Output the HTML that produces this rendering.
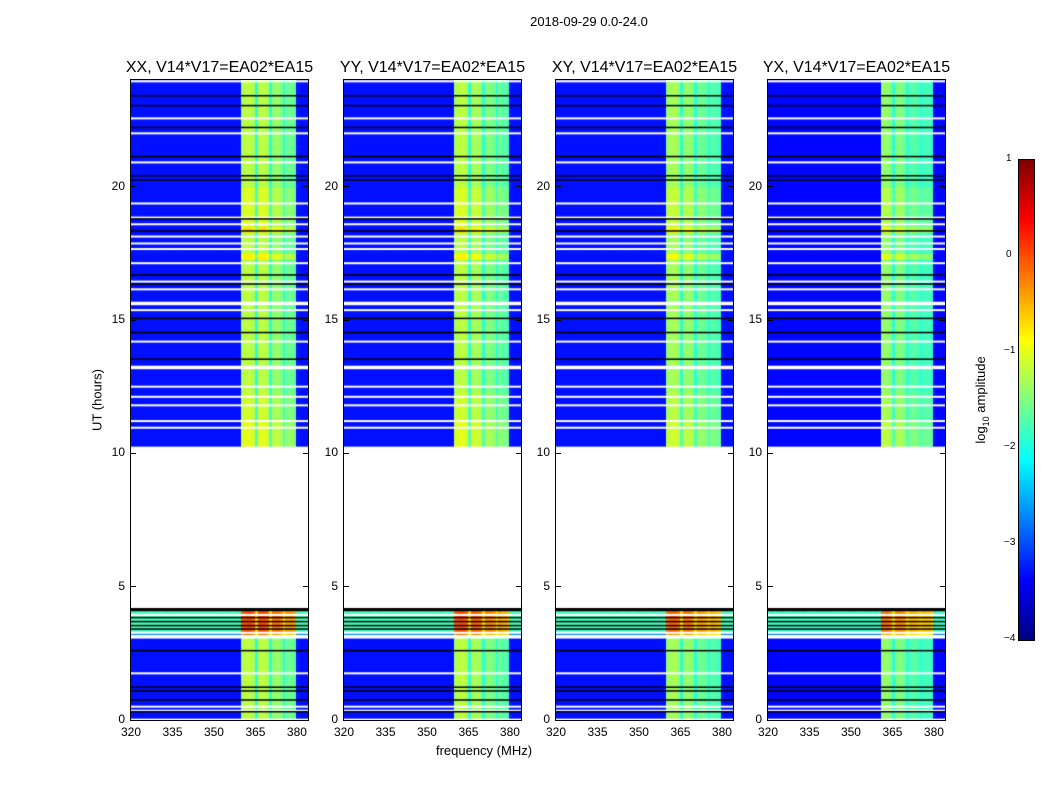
<!DOCTYPE html>
<html><head><meta charset="utf-8"><style>
body{margin:0;background:#fff;}
#wrap{position:relative;width:1050px;height:800px;background:#fff;font-family:"Liberation Sans",sans-serif;color:#000;overflow:hidden;}
.t{position:absolute;white-space:nowrap;}
canvas{position:absolute;}
</style></head><body>
<div id="wrap">
<div class="t" style="left:489px;top:14px;width:200px;text-align:center;font-size:13px">2018-09-29 0.0-24.0</div>
<div class="t" style="left:97px;top:400px;transform:translate(-50%,-50%) rotate(-90deg);font-size:13px">UT (hours)</div>
<div class="t" style="left:384px;top:743px;width:200px;text-align:center;font-size:13px">frequency (MHz)</div>
<div class="t" style="left:982px;top:400px;transform:translate(-50%,-50%) rotate(-90deg);font-size:13px">log<sub style="font-size:9px">10</sub> amplitude</div>
<canvas id="cb" width="15" height="480" style="left:1019px;top:160px;"></canvas>
<div style="position:absolute;left:1018px;top:159px;width:15px;height:480px;border:1px solid #000"></div>
</div>
<script>
// ---- data ----
const freqBins = []; for (let f = 320; f < 384; f++) freqBins.push(f); // MHz
const panelTitles = ["XX, V14*V17=EA02*EA15","YY, V14*V17=EA02*EA15","XY, V14*V17=EA02*EA15","YX, V14*V17=EA02*EA15"];
const bgLevel = [-3.3, -3.3, -3.3, -3.35];
// band levels for 360..379 MHz (20 bins) per panel
const bandXX = [-1.3,-1.2,-1.2,-1.2,-1.3,-1.9,-1.2,-1.2,-1.2,-1.3,-1.9,-1.4,-1.4,-1.4,-1.5,-1.9,-1.6,-1.6,-1.6,-1.7];
const bandYY = [-1.3,-1.2,-1.2,-1.2,-1.3,-1.9,-1.3,-1.3,-1.3,-1.4,-1.9,-1.5,-1.5,-1.5,-1.6,-1.9,-1.6,-1.7,-1.7,-1.8];
const bandXY = [-1.4,-1.3,-1.3,-1.3,-1.4,-1.9,-1.4,-1.4,-1.4,-1.5,-1.9,-1.6,-1.6,-1.6,-1.7,-1.9,-1.7,-1.7,-1.8,-1.8];
const bandYX = [-3.3,-1.4,-1.4,-1.4,-1.5,-1.9,-1.5,-1.5,-1.5,-1.6,-1.9,-1.7,-1.7,-1.7,-1.8,-1.9,-1.8,-1.8,-1.8,-1.9];
const bands = [bandXX, bandYY, bandXY, bandYX];
const bandStart = 360;
// time segments: start hour, end hour, offset (all bins), extra offset (band bins)
const segStart = [0.05, 3.15, 3.3, 4.1, 10.25, 11.2, 12.3, 17.3, 17.5, 18.3, 18.5, 20.0];
const segEnd   = [3.15, 3.3, 4.1, 4.2, 11.2, 12.3, 17.3, 17.5, 18.3, 18.5, 20.0, 24.0];
const segOff   = [0, 0.6, 1.5, -9, 0, 0, 0, 0, 0, 0, 0, 0];
const segBand  = [0, 0.4, -0.3, 0, 0.2, 0.1, 0, 0.4, 0, 0.5, 0.15, 0];
const gapStart = 4.2, gapEnd = 10.25;
const whiteLines = [23.95,22.56,22.0,20.91,19.37,18.84,18.59,18.13,17.87,17.66,17.13,16.44,16.15,15.62,15.37,14.19,13.22,12.5,12.12,11.8,11.21,10.96,3.94,3.27,3.12,1.75,0.5,0.35];
const blackLines = [23.41,23.04,22.22,21.13,20.41,20.25,18.79,18.34,16.69,16.35,15.06,14.53,13.53,3.84,3.69,3.54,3.41,2.6,1.23,1.09,0.75,0.31];
const thickWhite = [15.62,13.22,3.12];
const yTicks = [0,5,10,15,20];
const xTicks = [320,335,350,365,380];
const cbTicks = [1,0,-1,-2,-3,-4];
const vMin = -4, vMax = 1;

// ---- helpers ----
function jet(v){
  let t=(v-vMin)/(vMax-vMin); t=Math.max(0,Math.min(1,t));
  const c=x=>Math.round(255*Math.max(0,Math.min(1,x)));
  return `rgb(${c(1.5-Math.abs(4*t-3))},${c(1.5-Math.abs(4*t-2))},${c(1.5-Math.abs(4*t-1))})`;
}
const PW=177, PH=640, TOP=80, lefts=[131,344,556,768];
const xScale=f=>(f-320)/64*PW;
const yScale=h=>PH-(h/24)*PH;
const wrap=document.getElementById('wrap');

panelTitles.forEach((title,p)=>{
  const L=lefts[p];
  const cv=document.createElement('canvas');
  cv.width=PW; cv.height=PH;
  cv.style.left=L+'px'; cv.style.top=TOP+'px';
  
  
  wrap.appendChild(cv);
  const ctx=cv.getContext('2d');
  ctx.fillStyle='#fff'; ctx.fillRect(0,0,PW,PH);
  segStart.forEach((s,i)=>{
    const e=segEnd[i];
    const y0=yScale(e), y1=yScale(s);
    freqBins.forEach(f=>{
      const bi=f-bandStart;
      const inBand=bi>=0 && bi<bands[p].length && bands[p][bi]>-3;
      let v=inBand?bands[p][bi]:bgLevel[p];
      v+=segOff[i]+(inBand?segBand[i]:0);
      ctx.fillStyle=segOff[i]<-5?'#000':jet(v);
      const x0=xScale(f), x1=xScale(f+1);
      ctx.fillRect(Math.floor(x0),y0,Math.ceil(x1-x0)+1,y1-y0+0.5);
    });
  });
  ctx.fillStyle='#fff';
  ctx.fillRect(0,yScale(gapEnd),PW,yScale(gapStart)-yScale(gapEnd));
  ctx.fillRect(0,yScale(0.05),PW,PH-yScale(0.05));
  whiteLines.forEach(h=>{ctx.fillStyle='#fff';const w=thickWhite.includes(h)?3.5:2;ctx.fillRect(0,yScale(h)-w/2,PW,w);});
  blackLines.forEach(h=>{ctx.fillStyle='#000';ctx.fillRect(0,yScale(h)-0.75,PW,1.5);});

  const fr=document.createElement('div');
  fr.style.cssText=`position:absolute;left:${L-1}px;top:${TOP-1}px;width:${PW}px;height:${PH}px;border:1px solid #000;`;
  
  
  wrap.appendChild(fr);

  const tt=document.createElement('div');
  tt.className='t'; tt.textContent=title;
  tt.style.cssText=`left:${L-50}px;top:59px;width:${PW+100}px;text-align:center;font-size:16px;`;
  
  
  wrap.appendChild(tt);

  yTicks.forEach(v=>{
    const y=TOP+yScale(v);
    const lb=document.createElement('div');
    lb.className='t'; lb.textContent=v;
    lb.style.cssText=`left:${L-40}px;top:${y-8}px;width:34px;text-align:right;font-size:12px;`;
    
    
    wrap.appendChild(lb);
    [0,PW-5].forEach(dx=>{
      const tk=document.createElement('div');
      tk.style.cssText=`position:absolute;left:${L+dx}px;top:${y-0.5}px;width:5px;height:1px;background:#000;`;
      
      
      wrap.appendChild(tk);
    });
  });
  xTicks.forEach(v=>{
    const x=L+xScale(v);
    const lb=document.createElement('div');
    lb.className='t'; lb.textContent=v;
    lb.style.cssText=`left:${x-20}px;top:725px;width:40px;text-align:center;font-size:12px;`;
    
    
    wrap.appendChild(lb);
  });
});

// colorbar
const cb=document.getElementById('cb').getContext('2d');
for(let y=0;y<480;y++){cb.fillStyle=jet(vMax-(y+0.5)/480*(vMax-vMin));cb.fillRect(0,y,15,1);}
cbTicks.forEach(v=>{
  const y=160+(vMax-v)/(vMax-vMin)*480;
  const lb=document.createElement('div');
  lb.className='t'; lb.textContent=v<0?'\u2212'+(-v):String(v);
  lb.style.cssText=`left:${v<0?1004:1006}px;top:${y-7}px;font-size:10px;`;
  
  
  wrap.appendChild(lb);
});
</script>
</body></html>
